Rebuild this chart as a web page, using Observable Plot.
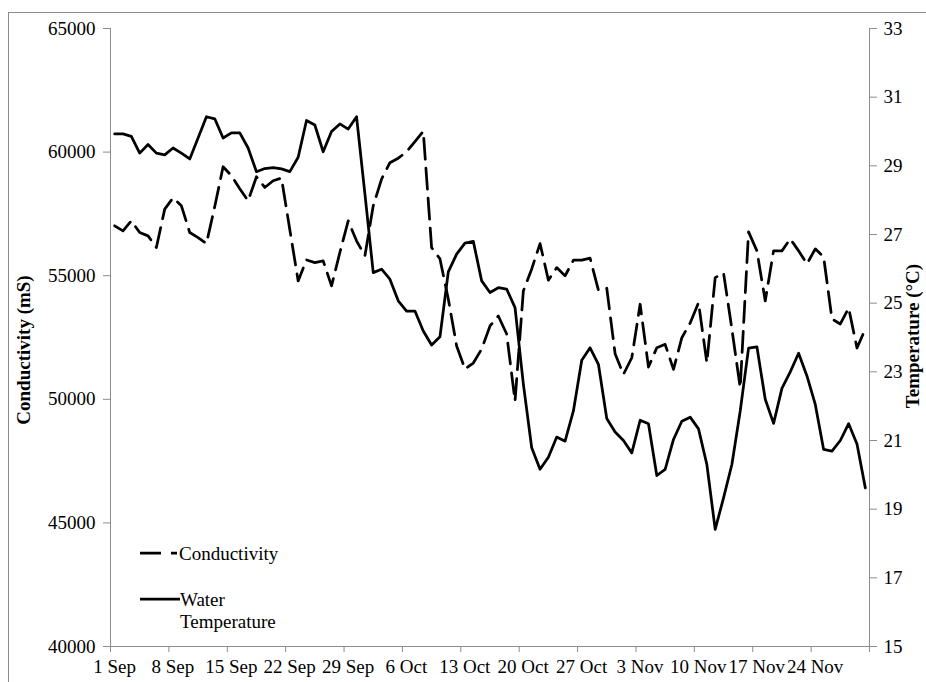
<!DOCTYPE html>
<html><head><meta charset="utf-8">
<script src="https://cdn.jsdelivr.net/npm/d3@7"></script>
<script src="https://cdn.jsdelivr.net/npm/@observablehq/plot@0.6"></script>
<style>
body{margin:0;background:#fff;}
#wrap{position:relative;width:926px;height:682px;overflow:hidden;font-family:"Liberation Serif","Times New Roman",serif;background:#fff;}
#border{position:absolute;left:8px;top:12px;width:940px;height:700px;border-left:1px solid #8c8c8c;border-top:1px solid #8c8c8c;}
#chart{position:absolute;left:0;top:0;}
.ytitle{position:absolute;font-weight:bold;font-size:19px;line-height:20px;white-space:nowrap;transform:translate(-50%,-50%) rotate(-90deg);color:#000;}
#legend{position:absolute;left:0;top:0;}
</style>
</head><body>
<div id="wrap">
  <div id="border"></div>
  <div id="chart"></div>
  <div class="ytitle" style="left:24px;top:350px;">Conductivity (mS)</div>
  <div class="ytitle" style="left:913px;top:336px;">Temperature (°C)</div>
  <svg id="legend" width="926" height="682"></svg>
</div>
<script>
// ---- data ----
const startDate = "2014-09-01";
const endDate = "2014-12-01";
const conductivity = [
 57018, 56815, 57220, 56746, 56612, 56138, 57694, 58150, 57828, 56746,
 56543, 56300, 57800, 59408, 59044, 58517, 58030, 59003, 58570, 58841,
 58950, 56856, 54789, 55640, 55530, 55599, 54586, 55940, 57220, 56410,
 55802, 57828, 58910, 59570, 59753, 60016, 60421, 60839, 56138, 55680,
 54060, 52155, 51223, 51466, 52034, 52966, 53371, 52641, 49926, 54384,
 55275, 56300, 54817, 55328, 54992, 55628, 55628, 55709, 54412, 54493,
 51843, 51008, 51681, 53845, 51304, 52086, 52224, 51211, 52492, 53087,
 53910, 51478, 54923, 55113, 52844, 50466, 56774, 56005, 53979, 56005,
 56005, 56491, 56005, 55478, 56086, 55762, 53249, 53047, 53695, 52074,
 52844
];
const waterTemperature = [
 29.93, 29.93, 29.86, 29.37, 29.62, 29.37, 29.32, 29.52, 29.37, 29.20,
 29.81, 30.43, 30.37, 29.81, 29.96, 29.96, 29.52, 28.83, 28.92, 28.95,
 28.91, 28.83, 29.25, 30.32, 30.19, 29.41, 30.00, 30.22, 30.07, 30.43,
 28.19, 25.89, 25.99, 25.70, 25.07, 24.77, 24.77, 24.19, 23.78, 24.02,
 25.91, 26.43, 26.75, 26.80, 25.65, 25.31, 25.45, 25.41, 24.87, 22.64,
 20.79, 20.16, 20.51, 21.10, 20.98, 21.86, 23.34, 23.70, 23.22, 21.64,
 21.25, 21.00, 20.64, 21.59, 21.49, 19.98, 20.16, 21.03, 21.56, 21.68,
 21.34, 20.30, 18.41, 19.33, 20.30, 21.86, 23.69, 23.73, 22.20, 21.50,
 22.52, 23.00, 23.54, 22.88, 22.05, 20.74, 20.69, 21.00, 21.49, 20.90,
 19.62
];
const condTicks = [40000, 45000, 50000, 55000, 60000, 65000];
const tempTicks = [15, 17, 19, 21, 23, 25, 27, 29, 31, 33];
const xTickLabels = ["1 Sep","8 Sep","15 Sep","22 Sep","29 Sep","6 Oct","13 Oct","20 Oct","27 Oct","3 Nov","10 Nov","17 Nov","24 Nov",""];
const seriesNames = ["Conductivity", "Water Temperature"];

// ---- build ----
const start = new Date(startDate + "T00:00:00Z");
const end = new Date(endDate + "T00:00:00Z");
const condDomain = [condTicks[0], condTicks[condTicks.length-1]];
const tempDomain = [tempTicks[0], tempTicks[tempTicks.length-1]];
const toCond = t => condDomain[0] + (t - tempDomain[0]) * (condDomain[1]-condDomain[0]) / (tempDomain[1]-tempDomain[0]);
const toTemp = c => tempDomain[0] + (c - condDomain[0]) * (tempDomain[1]-tempDomain[0]) / (condDomain[1]-condDomain[0]);

const rows = conductivity.map((c, i) => ({
  date: d3.utcHour.offset(d3.utcDay.offset(start, i), 12),
  cond: c,
  temp: waterTemperature[i]
}));
const xTicks = xTickLabels.map((_, i) => d3.utcDay.offset(start, 7 * i));
const gray = "#8c8c8c";

const chart = Plot.plot({
  width: 926, height: 682,
  marginLeft: 110, marginRight: 57, marginTop: 28, marginBottom: 36,
  x: {type: "utc", domain: [start, end]},
  y: {domain: condDomain},
  style: {fontFamily: "'Liberation Serif','Times New Roman',serif", fontSize: "19px", background: "transparent", color: "black"},
  marks: [
    Plot.ruleX([start], {stroke: gray}),
    Plot.ruleX([end], {stroke: gray}),
    Plot.ruleY([condDomain[0]], {stroke: gray}),
    Plot.axisY({anchor: "left", ticks: condTicks, tickSize: 7, tickPadding: 8, tickFormat: d => String(d), stroke: gray, fill: "black", label: null}),
    Plot.axisY({anchor: "right", ticks: tempTicks.map(toCond), tickSize: 7, tickPadding: 7, tickFormat: d => String(Math.round(toTemp(d))), stroke: gray, fill: "black", label: null}),
    Plot.axisX({ticks: xTicks, tickSize: 6, tickFormat: () => "", stroke: gray, label: null}),
    Plot.axisX({ticks: xTicks, tickSize: 0, tickPadding: 13, dx: 4, tickFormat: (d, i) => xTickLabels[i], fill: "black", label: null}),
    Plot.line(rows, {x: "date", y: "cond", stroke: "black", strokeWidth: 2.75, strokeDasharray: "21,9"}),
    Plot.line(rows, {x: "date", y: d => toCond(d.temp), stroke: "black", strokeWidth: 2.75})
  ]
});
document.getElementById("chart").appendChild(chart);

// ---- legend ----
const lg = d3.select("#legend");
lg.append("line").attr("x1",140).attr("x2",177).attr("y1",553).attr("y2",553)
  .attr("stroke","black").attr("stroke-width",2.75).attr("stroke-dasharray","21,10");
lg.append("text").attr("x",179).attr("y",553).attr("dy","0.35em")
  .style("font-family","'Liberation Serif','Times New Roman',serif").style("font-size","19px").text(seriesNames[0]);
lg.append("line").attr("x1",140).attr("x2",180).attr("y1",599).attr("y2",599)
  .attr("stroke","black").attr("stroke-width",2.75);
const t2 = lg.append("text").style("font-family","'Liberation Serif','Times New Roman',serif").style("font-size","19px");
const parts = seriesNames[1].split(" ");
t2.append("tspan").attr("x",180).attr("y",599).attr("dy","0.35em").text(parts[0]);
t2.append("tspan").attr("x",180).attr("y",621).attr("dy","0.35em").text(parts[1]);
</script>
</body></html>
